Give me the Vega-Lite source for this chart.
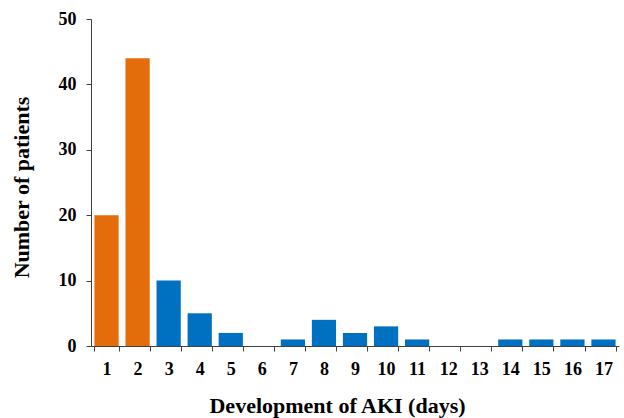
{
  "$schema": "https://vega.github.io/schema/vega-lite/v6.json",
  "width": 528,
  "height": 327,
  "autosize": "none",
  "padding": {"left": 91, "top": 19, "right": 5, "bottom": 72},
  "background": "white",
  "data": {"values": [
    {"day": "1", "patients": 20, "group": "early"},
    {"day": "2", "patients": 44, "group": "early"},
    {"day": "3", "patients": 10, "group": "late"},
    {"day": "4", "patients": 5, "group": "late"},
    {"day": "5", "patients": 2, "group": "late"},
    {"day": "6", "patients": 0, "group": "late"},
    {"day": "7", "patients": 1, "group": "late"},
    {"day": "8", "patients": 4, "group": "late"},
    {"day": "9", "patients": 2, "group": "late"},
    {"day": "10", "patients": 3, "group": "late"},
    {"day": "11", "patients": 1, "group": "late"},
    {"day": "12", "patients": 0, "group": "late"},
    {"day": "13", "patients": 0, "group": "late"},
    {"day": "14", "patients": 1, "group": "late"},
    {"day": "15", "patients": 1, "group": "late"},
    {"day": "16", "patients": 1, "group": "late"},
    {"day": "17", "patients": 1, "group": "late"}
  ]},
  "mark": {"type": "bar"},
  "encoding": {
    "x": {
      "field": "day", "type": "ordinal", "sort": null,
      "scale": {"paddingInner": 0.22, "paddingOuter": 0.11},
      "axis": {
        "title": "Development of AKI (days)",
        "labelAngle": 0,
        "tickBand": "extent",
        "tickSize": 5,
        "labelPadding": 9,
        "labelFont": "Liberation Serif", "labelFontSize": 18, "labelFontWeight": "bold", "labelColor": "black",
        "titleFont": "Liberation Serif", "titleFontSize": 22, "titleFontWeight": "bold", "titleColor": "black",
        "titleBaseline": "alphabetic", "titleAlign": "center",
        "titleX": 246, "titleY": 66,
        "domainColor": "#404040", "tickColor": "#404040", "grid": false
      }
    },
    "y": {
      "field": "patients", "type": "quantitative",
      "scale": {"domain": [0, 50]},
      "axis": {
        "title": "Number of patients",
        "values": [0, 10, 20, 30, 40, 50],
        "tickSize": 5,
        "labelPadding": 10,
        "labelFont": "Liberation Serif", "labelFontSize": 18, "labelFontWeight": "bold", "labelColor": "black",
        "titleFont": "Liberation Serif", "titleFontSize": 22, "titleFontWeight": "bold", "titleColor": "black",
        "titleBaseline": "alphabetic", "titleAlign": "center", "titleAngle": -90,
        "titleX": -63, "titleY": 168,
        "domainColor": "#404040", "tickColor": "#404040", "grid": false
      }
    },
    "color": {
      "field": "group", "type": "nominal",
      "scale": {"domain": ["early", "late"], "range": ["#E46C0A", "#0070C0"]},
      "legend": null
    }
  },
  "config": {"view": {"stroke": null}}
}
